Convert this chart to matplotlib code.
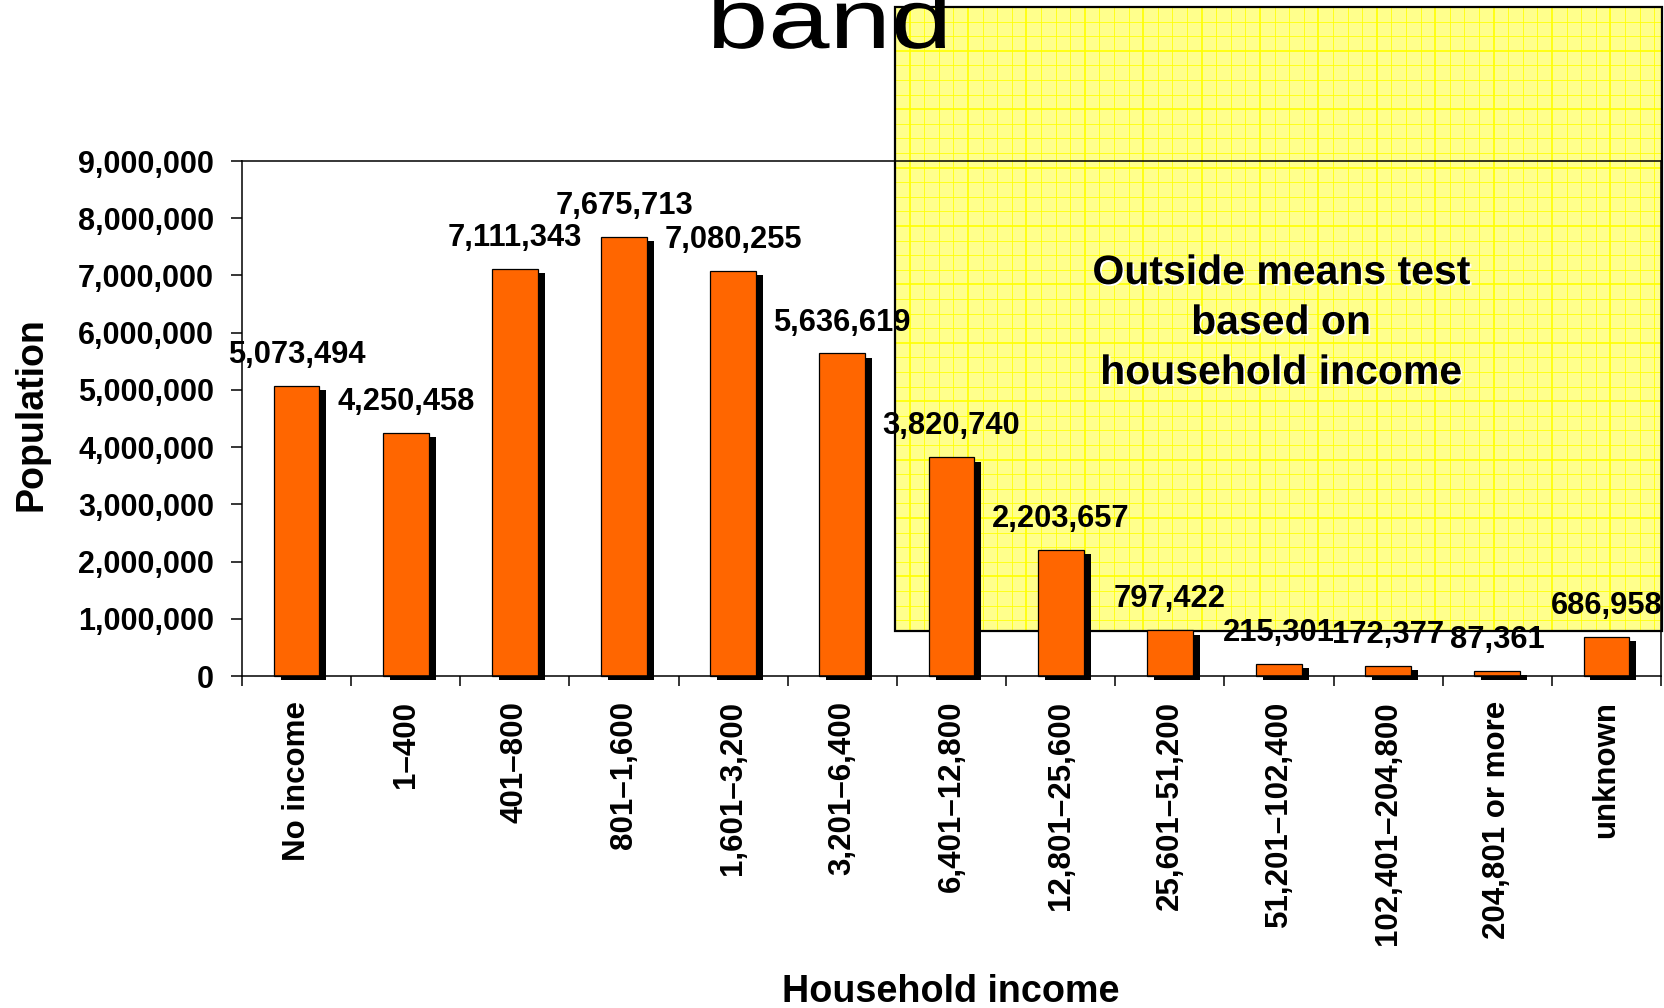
import numpy as np
import matplotlib
matplotlib.use("Agg")
import matplotlib.pyplot as plt
import matplotlib.patheffects as pe
from matplotlib.patches import Rectangle, PathPatch
from matplotlib.lines import Line2D
from matplotlib.textpath import TextPath
from matplotlib.font_manager import FontProperties
from matplotlib.transforms import Affine2D, IdentityTransform
from matplotlib.ticker import FuncFormatter

plt.rcParams['font.family'] = ['Liberation Sans', 'DejaVu Sans']

# income bands and population counts
bands = ["No income", "1\u2013400", "401\u2013800", "801\u20131,600", "1,601\u20133,200",
         "3,201\u20136,400", "6,401\u201312,800", "12,801\u201325,600", "25,601\u201351,200",
         "51,201\u2013102,400", "102,401\u2013204,800", "204,801 or more", "unknown"]
population = [5073494, 4250458, 7111343, 7675713, 7080255, 5636619, 3820740,
              2203657, 797422, 215301, 172377, 87361, 686958]
y_ticks = list(range(0, 9000001, 1000000))

note_lines = ["Outside means test", "based on", "household income"]

W, H = 1665, 1008
fig = plt.figure(figsize=(W / 100, H / 100), dpi=100)
fig.patch.set_facecolor("white")


def px(x, y):
    # pixel position (from top-left) -> figure fraction
    return x / W, (H - y) / H


# yellow graph-paper note box, sits behind the plot
bx0, by0, bx1, by1 = 895, 7, 1662, 631
fx, fy = px(bx0, by1)
fig.add_artist(Rectangle((fx, fy), (bx1 - bx0) / W, (by1 - by0) / H,
                         transform=fig.transFigure, facecolor="#FFFF8C",
                         edgecolor="none", zorder=-3))
step = 14.6
k = 1
while bx0 + k * step < bx1:
    x = bx0 + k * step
    major = (k % 4 == 1)
    fig.add_artist(Line2D([x / W, x / W], [fy, (H - by0) / H], transform=fig.transFigure,
                          color="#FFFF00", lw=1.2 if major else 0.7,
                          alpha=1.0 if major else 0.8, zorder=-2))
    k += 1
k = 1
while by0 + k * step < by1:
    y = by0 + k * step
    major = (k % 4 == 3)
    fig.add_artist(Line2D([fx, bx1 / W], [(H - y) / H, (H - y) / H], transform=fig.transFigure,
                          color="#FFFF00", lw=1.2 if major else 0.7,
                          alpha=1.0 if major else 0.8, zorder=-2))
    k += 1
fig.add_artist(Rectangle((fx, fy), (bx1 - bx0) / W, (by1 - by0) / H,
                         transform=fig.transFigure, facecolor="none",
                         edgecolor="black", lw=1.6, zorder=-1))

for line, base in zip(note_lines, [284, 334, 384]):
    xx, yy = px(1281, base)
    fig.text(xx, yy, line, ha="center", va="baseline", fontsize=29.5,
             fontweight="bold", color="black", zorder=5,
             path_effects=[pe.withSimplePatchShadow(offset=(1.2, -1.2),
                                                    shadow_rgbFace="white", alpha=1)])

# plot area
l, r, t, b = 242, 1661, 161, 676
ax = fig.add_axes([l / W, (H - b) / H, (r - l) / W, (b - t) / H])
ax.set_facecolor("none")
ax.set_zorder(1)

x = np.arange(len(bands))
ax.bar(x, population, width=0.42, color="#FF6600", edgecolor="black", lw=0.9,
       clip_on=False,
       path_effects=[pe.SimplePatchShadow(offset=(5, -3), shadow_rgbFace="black", alpha=1),
                     pe.Normal()])

for xi, v in zip(x, population):
    ax.annotate(f"{v:,}", (xi, v), xytext=(0, 16.5), textcoords="offset points",
                ha="center", va="baseline", fontsize=22.2, fontweight="bold",
                annotation_clip=False)

ax.set_xlim(-0.5, len(bands) - 0.5)
ax.set_ylim(0, 9000000)
ax.set_yticks(y_ticks)
ax.yaxis.set_major_formatter(FuncFormatter(lambda v, p: f"{int(v):,}"))
ax.set_xticks(x)
ax.set_xticklabels(bands, rotation=90, fontsize=22.5, fontweight="bold")
ax.set_xticks(np.arange(-0.5, len(bands), 1), minor=True)
for lab in ax.get_yticklabels():
    lab.set_fontweight("bold")
    lab.set_fontsize(22)

ax.tick_params(axis="x", which="major", length=0, pad=18)
ax.tick_params(axis="x", which="minor", length=7.5, width=1.1, direction="out")
ax.tick_params(axis="y", length=8, width=1.1, direction="out", pad=12)
for s in ax.spines.values():
    s.set_linewidth(1.1)

xx, yy = px(32, 414)
fig.text(xx, yy, "Population", rotation=90, ha="center", va="center",
         fontsize=27, fontweight="bold")
xx, yy = px(951, 1002)
fig.text(xx, yy, "Household income", ha="center", va="baseline",
         fontsize=27.2, fontweight="bold")

# large title word, stretched horizontally and partly cut off by the top edge
tp = TextPath((0, 0), "band", size=84, prop=FontProperties(family="Liberation Sans"))
ext = tp.get_extents()
sx = 231 / ext.width
tr = Affine2D().translate(-ext.x0, 0).scale(sx, 1).translate(714, H - 48)
fig.add_artist(PathPatch(tr.transform_path(tp), transform=IdentityTransform(),
                         facecolor="black", edgecolor="none", zorder=6))

fig.savefig("out.png", dpi=100)
